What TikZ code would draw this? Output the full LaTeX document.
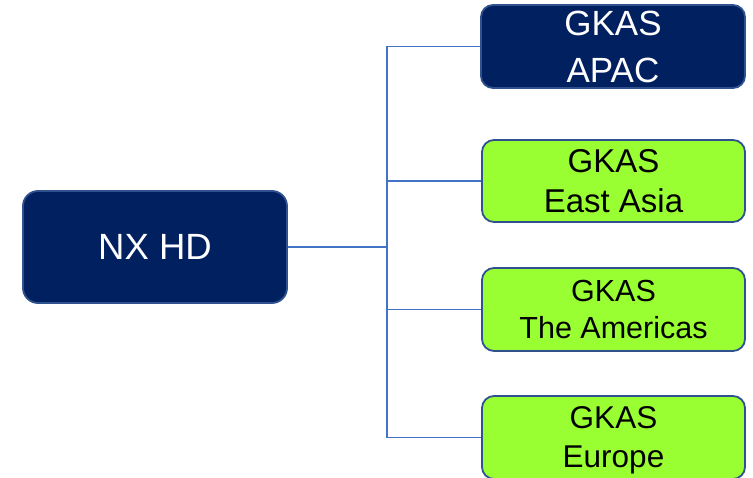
\documentclass[tikz,border=0pt]{standalone}
\usepackage{fontspec}
\setmainfont{Liberation Sans}
\definecolor{navy}{HTML}{002060}
\definecolor{lime}{HTML}{99FF33}
\definecolor{edge}{HTML}{2F528F}
\definecolor{wire}{HTML}{4472C4}
\tikzset{
  box/.style={draw=edge, line width=1.8pt, rounded corners=12pt, align=center,
    inner sep=0pt, text depth=0pt},
  darkbox/.style={box, fill=navy, text=white},
  greenbox/.style={box, fill=lime, text=black},
  wireline/.style={draw=wire, line width=1.2pt}
}
\begin{document}
\begin{tikzpicture}[x=1pt, y=-1pt]
  \useasboundingbox (0,0) rectangle (753,478);
  % root
  \node[darkbox, rounded corners=15pt, minimum width=264pt, minimum height=112pt,
        font=\fontsize{36.5}{44}\selectfont] (root) at (155,247) {NX HD};
  % regional units
  \node[darkbox, minimum width=264pt, minimum height=83pt,
        font=\fontsize{35}{47}\selectfont] (apac) at (613,46.5) {GKAS\\APAC};
  \node[greenbox, minimum width=263pt, minimum height=82pt,
        font=\fontsize{33}{40}\selectfont] (easia) at (613.5,181) {GKAS\\East Asia};
  \node[greenbox, minimum width=263pt, minimum height=83pt,
        font=\fontsize{30.5}{36.5}\selectfont] (amer) at (613.5,309.5) {GKAS\\The Americas};
  \node[greenbox, minimum width=263pt, minimum height=83pt,
        font=\fontsize{31.5}{39}\selectfont] (europe) at (613.5,437.5) {GKAS\\Europe};
  % connectors
  \draw[wireline] (root.east) -- (387,247) coordinate (hub);
  \draw[wireline] (hub) |- (apac.west);
  \draw[wireline] (hub) |- (easia.west);
  \draw[wireline] (hub) |- (amer.west);
  \draw[wireline] (hub) |- (europe.west);
\end{tikzpicture}
\end{document}
